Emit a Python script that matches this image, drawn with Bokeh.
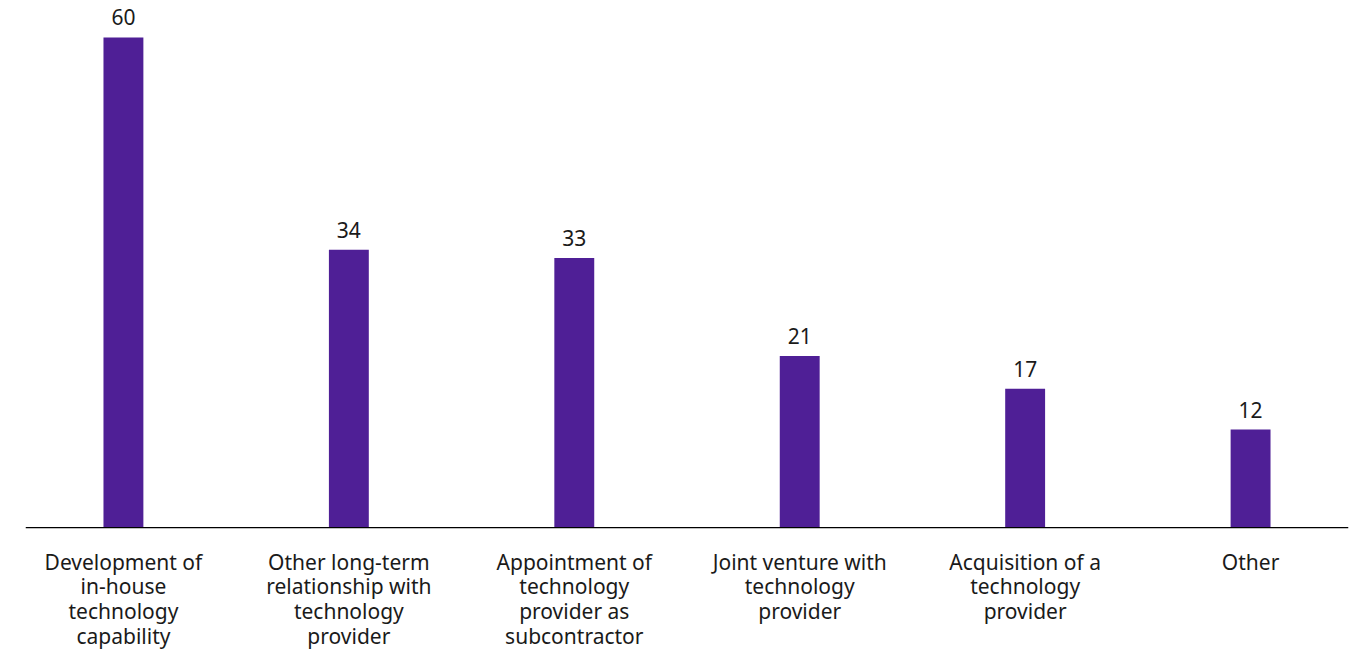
from bokeh.plotting import figure
from bokeh.models import ColumnDataSource, FactorRange, Range1d, Span
from bokeh.core.properties import value
from bokeh.embed import file_html
from bokeh.resources import INLINE

categories = [
    "Development of\nin-house\ntechnology\ncapability",
    "Other long-term\nrelationship with\ntechnology\nprovider",
    "Appointment of\ntechnology\nprovider as\nsubcontractor",
    "Joint venture with\ntechnology\nprovider",
    "Acquisition of a\ntechnology\nprovider",
    "Other",
]
values = [60, 34, 33, 21, 17, 12]
value_labels = [str(v) for v in values]

keys = [f"c{i}" for i in range(len(categories))]
zeros = [0] * len(values)
src = ColumnDataSource(dict(x=keys, top=values, lab=value_labels, cat=categories, zero=zeros))

BAR = "#4F1F96"
FONT = "Noto Sans"

p = figure(
    width=1355, height=652,
    x_range=FactorRange(*keys, range_padding=-0.0656, range_padding_units="absolute"),
    y_range=Range1d(-15.3, 64.53),
    output_backend="svg", toolbar_location=None,
    min_border_left=25, min_border_right=7, min_border_top=0, min_border_bottom=0,
)
p.axis.visible = False
p.grid.visible = False
p.outline_line_color = None
p.background_fill_color = "white"
p.border_fill_color = "white"

p.vbar(x="x", top="top", bottom="zero", width=0.177, source=src, fill_color=BAR, line_color=None)

p.add_layout(Span(location=0, dimension="width", line_color="#000000", line_width=1.3))

p.text(x="x", y="top", text="lab", source=src, text_align="center", text_baseline="bottom",
       y_offset=-12, text_font=value(FONT), text_font_size="21px", text_color="#1a1a1a")

p.text(x="x", y="zero", text="cat", source=src, text_align="center", text_baseline="top",
       y_offset=20, text_font=value(FONT), text_font_size="21px", text_color="#1a1a1a",
       text_line_height=0.89)

open("out.html", "w").write(file_html(p, INLINE))
